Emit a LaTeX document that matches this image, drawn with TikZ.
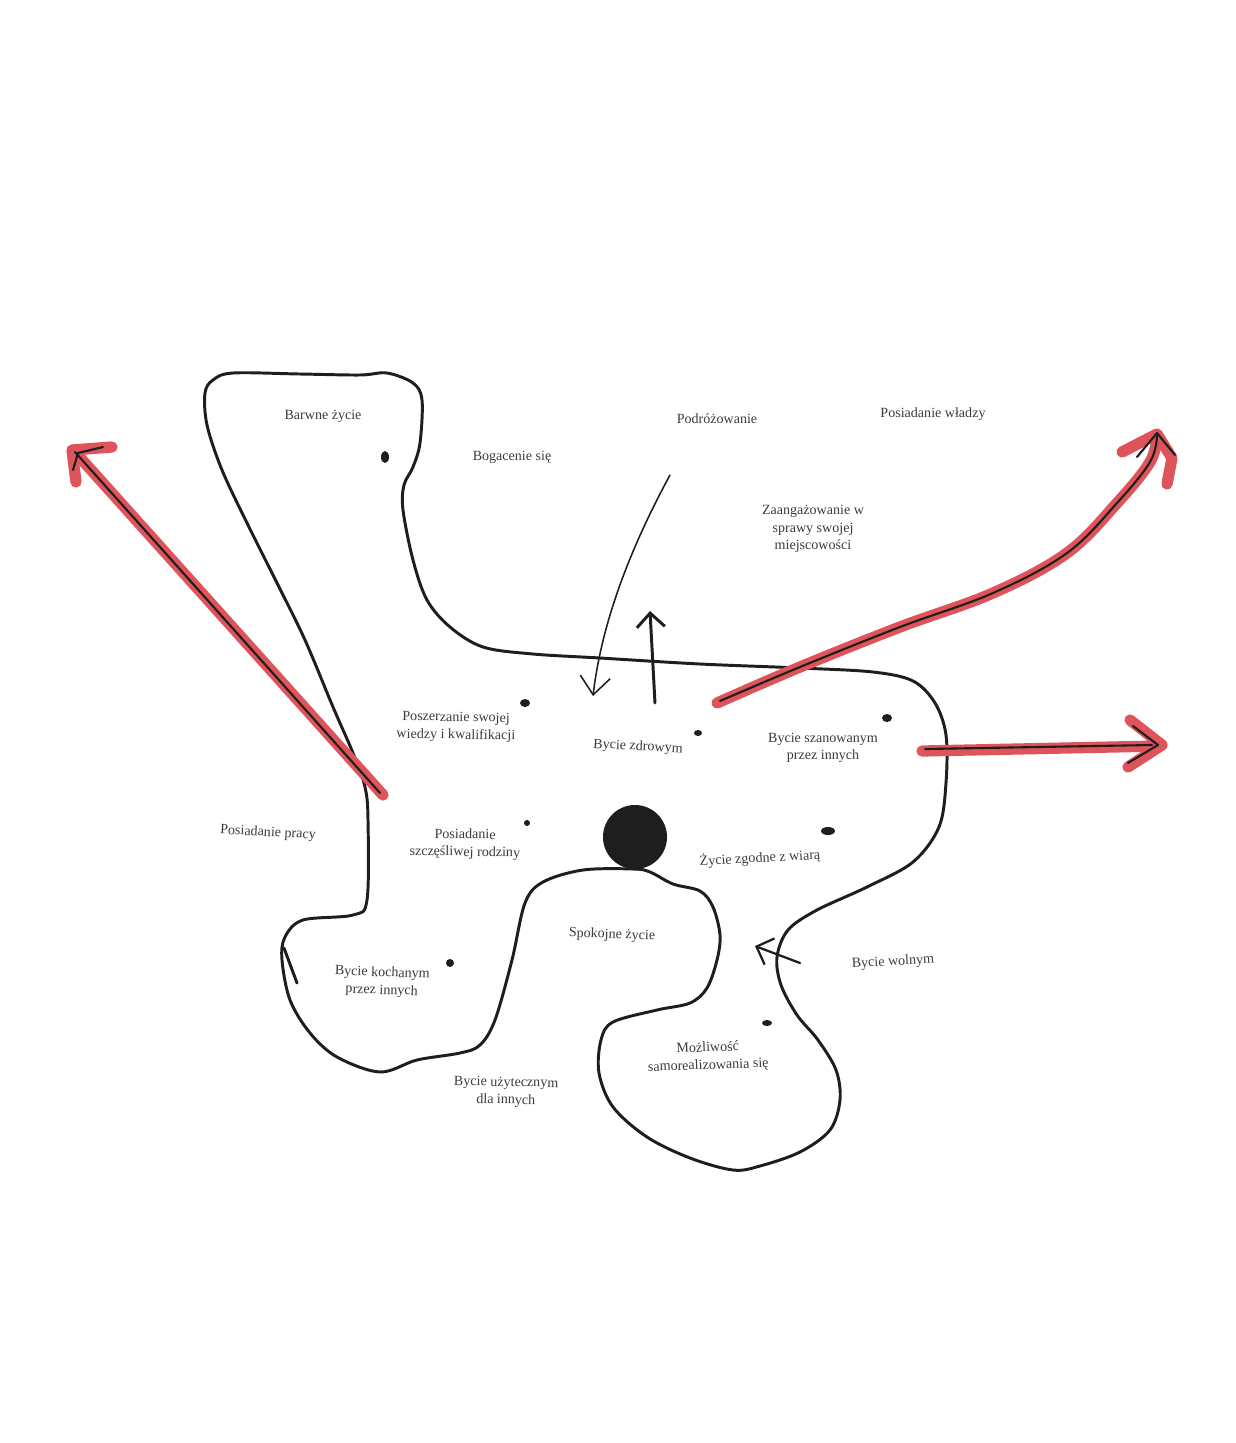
\documentclass[tikz,border=0pt]{standalone}
\usepackage{fontspec}
\setmainfont{Liberation Serif}
\usetikzlibrary{arrows.meta}
\definecolor{marker}{RGB}{222,84,90}
\definecolor{ink}{RGB}{30,30,30}
\definecolor{print}{RGB}{60,60,60}

\begin{document}
\begin{tikzpicture}[x=0.025cm,y=-0.025cm,
  pen/.style={draw=ink,line width=2.1pt,line cap=round,line join=round},
  thin pen/.style={draw=ink,line width=1.1pt,line cap=round,line join=round},
  marker line/.style={draw=marker,line width=8pt,line cap=round,line join=round},
  marker ink/.style={draw=ink,line width=1.5pt,line cap=round,line join=round},
  value node/.style={align=center,text=print,font=\fontsize{10}{12.5}\selectfont,inner sep=1pt},
  blob/.style={fill=ink}]

  \useasboundingbox[fill=white] (0,0) rectangle (1236,1443);

  % outline of the drawn region
  \draw[pen] plot[smooth cycle,tension=0.55] coordinates {
    (213,380) (233,373) (300,374) (360,375) (387,373) (413,383) (422,400)
    (420,443) (413,467) (404,485) (403,510) (413,560) (427,600) (450,627)
    (483,647) (533,654) (600,658) (700,664) (800,668) (873,672) (913,681)
    (935,703) (946,735) (946,783) (939,827) (913,862) (867,887) (817,910)
    (788,930) (777,957) (781,985) (797,1015) (818,1040) (836,1070) (840,1100)
    (830,1130) (800,1152) (760,1166) (733,1170) (690,1158) (647,1137)
    (613,1107) (599,1073) (601,1040) (613,1022) (657,1010) (690,1003)
    (707,988) (717,960) (720,935) (713,907) (700,891) (673,884) (650,872)
    (633,869) (583,870) (543,882) (525,903) (512,960) (495,1020) (480,1045)
    (460,1053) (417,1060) (380,1072) (337,1057) (310,1033) (290,1000)
    (282,960) (285,937) (303,920) (353,915) (367,900) (368,820) (365,787)
    (353,753) (333,707) (305,640) (278,585) (248,525) (222,470) (207,425)
    (205,393)};
  \draw[pen] (284,948) -- (297,983);

  \node[circle,fill=ink,minimum size=1.6cm,inner sep=0pt] (stone) at (635,837) {};

  % marks next to the values
  \foreach \x/\y/\a/\b in {385/457/4/6, 525/703/5/4, 698/733/4/3, 887/718/5/4,
                          527/823/3/3, 828/831/7/4, 450/963/4/4, 767/1023/5/3}
    \fill[blob] (\x,\y) ellipse [x radius=\a, y radius=\b];

  % values
  \node[value node] (colourful) at (323,416) {Barwne życie};
  \node[value node] (wealth) at (512,457) {Bogacenie się};
  \node[value node] (travel) at (717,419) {Podróżowanie};
  \node[value node] (power) at (933,414) {Posiadanie władzy};
  \node[value node] (community) at (813,529) {Zaangażowanie w\\sprawy swojej\\miejscowości};
  \node[value node,rotate=-1] (knowledge) at (456,727) {Poszerzanie swojej\\wiedzy i kwalifikacji};
  \node[value node,rotate=-3] (health) at (638,747) {Bycie zdrowym};
  \node[value node] (respect) at (823,748) {Bycie szanowanym\\przez innych};
  \node[value node,rotate=-3] (job) at (268,833) {Posiadanie pracy};
  \node[value node,rotate=-1] (family) at (465,844) {Posiadanie\\szczęśliwej rodziny};
  \node[value node,rotate=3] (faith) at (760,858) {Życie zgodne z wiarą};
  \node[value node,rotate=-2] (calm) at (612,935) {Spokojne życie};
  \node[value node,rotate=3] (freedom) at (893,962) {Bycie wolnym};
  \node[value node,rotate=-2] (loved) at (382,982) {Bycie kochanym\\przez innych};
  \node[value node,rotate=2] (selfreal) at (708,1057) {Możliwość\\samorealizowania się};
  \node[value node,rotate=-1] (useful) at (506,1092) {Bycie użytecznym\\dla innych};

  % thin arrows
  \coordinate (trip from) at (670,475);
  \coordinate (trip to) at (593,696);
  \draw[thin pen,-{Straight Barb[length=4.5mm,width=7.5mm]}]
    (trip from) .. controls (632,545) and (602,620) .. (trip to);
  \coordinate (up from) at (655,703);
  \coordinate (up to) at (650,611);
  \draw[pen,-{Straight Barb[length=3.5mm,width=7mm]}] (up from) -- (up to);
  \coordinate (free from) at (800,963);
  \coordinate (free to) at (755,946);
  \draw[thin pen,line width=1.6pt,-{Straight Barb[length=3.5mm,width=7mm]}] (free from) -- (free to);

  % red marker arrows
  \coordinate (left from) at (383,795);
  \coordinate (left to) at (75,452);
  \draw[marker line] (left from) -- (left to);
  \draw[marker line] (76,482) -- (72,450) -- (112,447);
  \draw[marker ink] (380,793) -- (left to);
  \draw[marker ink] (73,470) -- (78,453) -- (103,447);

  \coordinate (rise from) at (717,703);
  \coordinate (rise to) at (1157,436);
  \draw[marker line] plot[smooth,tension=0.6] coordinates {
    (rise from) (800,667) (900,627) (993,593) (1067,553) (1117,503) (1150,462) (rise to)};
  \draw[marker line] (1122,452) -- (1157,434) -- (1172,458) -- (1167,484);
  \draw[marker ink] plot[smooth,tension=0.6] coordinates {
    (720,701) (800,667) (900,627) (993,593) (1067,553) (1117,503) (1150,462) (rise to)};
  \draw[marker ink] (1137,457) -- (1157,433) -- (1175,455);

  \coordinate (right from) at (922,751);
  \coordinate (right to) at (1160,746);
  \draw[marker line] (right from) -- (right to);
  \draw[marker line] (1130,720) -- (1162,745) -- (1128,767);
  \draw[marker ink] (925,749) -- (1152,745);
  \draw[marker ink] (1133,726) -- (1158,745) -- (1128,763);

\end{tikzpicture}
\end{document}
